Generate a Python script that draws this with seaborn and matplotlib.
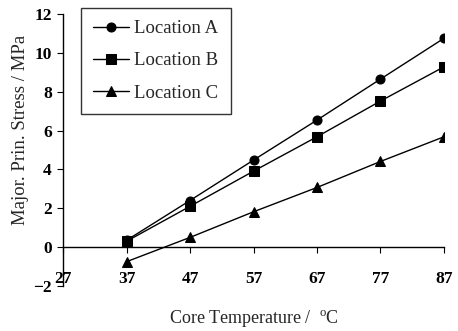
import matplotlib
matplotlib.use("Agg")
import matplotlib.pyplot as plt
import seaborn as sns
import pandas as pd

# core temperature (deg C) and major principal stress (MPa)
temps = [37, 47, 57, 67, 77, 87]
loc_a = [0.35, 2.4, 4.48, 6.54, 8.65, 10.75]
loc_b = [0.30, 2.1, 3.91, 5.68, 7.52, 9.28]
loc_c = [-0.75, 0.5, 1.82, 3.07, 4.41, 5.68]
names = ["Location A", "Location B", "Location C"]

df = pd.DataFrame({
    "temp": temps * 3,
    "stress": loc_a + loc_b + loc_c,
    "loc": [n for n in names for _ in temps],
})

sns.set_style("ticks")
plt.rcParams["font.family"] = ["Liberation Serif", "DejaVu Serif"]

fig = plt.figure(figsize=(4.58, 3.31), dpi=100)
ax = fig.add_axes([0.1376, 0.136, 0.8318, 0.8217])

sns.lineplot(data=df, x="temp", y="stress", style="loc", hue="loc",
             palette=["black"] * 3, markers={"Location A": "o", "Location B": "s", "Location C": "^"},
             dashes=False, markersize=6.5, linewidth=1.0, markeredgecolor="black", ax=ax)

ax.set_xlim(27, 87)
ax.set_ylim(-2, 12)
ax.set_xticks([27, 37, 47, 57, 67, 77, 87])
ax.set_yticks(range(-2, 13, 2))
ax.spines["bottom"].set_position(("data", 0))
ax.spines["top"].set_visible(False)
ax.spines["right"].set_visible(False)
for s in ["left", "bottom"]:
    ax.spines[s].set_color("black")
    ax.spines[s].set_linewidth(1.0)
ax.tick_params(axis="x", direction="out", length=4, pad=13, labelsize=12.5, colors="black")
ax.tick_params(axis="y", direction="out", length=4, pad=4, labelsize=12.5, colors="black")
for lab in ax.get_xticklabels() + ax.get_yticklabels():
    lab.set_fontweight("bold")

ax.set_xlabel("Core Temperature /  $^{\\mathregular{o}}$C", fontsize=13)
ax.xaxis.set_label_coords(0.5, -0.085)
ax.set_ylabel("Major. Prin. Stress / MPa", fontsize=13.5)
ax.yaxis.set_label_coords(-0.09, 0.575)

leg = ax.legend(loc="upper left", bbox_to_anchor=(0.047, 1.022), borderaxespad=0,
                fontsize=13.5, frameon=True, fancybox=False, edgecolor="black",
                handlelength=1.9, borderpad=0.65, labelspacing=0.8, handletextpad=0.3,
                markerscale=1.0)
leg.get_frame().set_linewidth(1.0)
leg.set_title(None)

fig.savefig("out.png", dpi=100)
